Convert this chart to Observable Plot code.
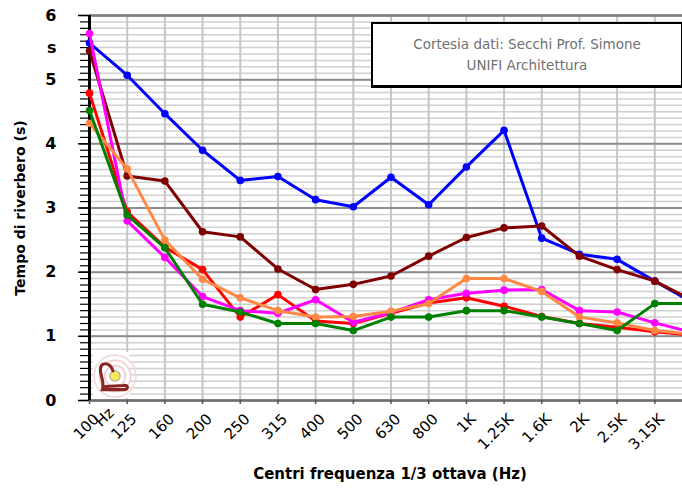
<!DOCTYPE html>
<html>
<head>
<meta charset="utf-8">
<script src="https://cdn.jsdelivr.net/npm/d3@7"></script>
<script src="https://cdn.jsdelivr.net/npm/@observablehq/plot@0.6"></script>
<style>
  body { margin: 0; background: #fff; overflow: hidden; }
  #wrap { position: relative; width: 682px; height: 490px; overflow: hidden; background: #fff; }
  #note { position: absolute; left: 371px; top: 22px; width: 308px; height: 51px; padding-top: 10px;
          background: #fff; border: 2px solid #000; border-bottom-width: 3px;
          font-family: "DejaVu Sans", sans-serif; font-size: 13.5px; line-height: 21px;
          color: #707070; text-align: center; }
  #logo { position: absolute; left: 92px; top: 352px; width: 46px; height: 46px; }
</style>
</head>
<body>
<div id="wrap">
  <div id="chart"></div>
  <div id="note">Cortesia dati: Secchi Prof. Simone<br>UNIFI Architettura</div>
  <svg id="logo" viewBox="0 0 44 44">
    <rect x="1" y="0" width="35" height="44" fill="#fff"/>
    <circle cx="22" cy="23" r="20" fill="none" stroke="#f2d8d8" stroke-width="1.5"/>
    <circle cx="22" cy="23" r="15" fill="none" stroke="#eed0d0" stroke-width="1.5"/>
    <circle cx="22" cy="23" r="10" fill="none" stroke="#ead0d0" stroke-width="1.5"/>
    <circle cx="22" cy="23" r="5" fill="#f2ea5a" stroke="#b0a0a0" stroke-width="1"/>
    <path d="M20 18 C 17 9, 7 9, 8 18 C 9 25, 12 30, 10 36 L 31 36 C 35 36, 35 31, 30 32 L 13 33"
          fill="none" stroke="#8b2525" stroke-width="3" stroke-linecap="round"/>
  </svg>
</div>
<script>
// Categories (1/3 octave band centres)
const freqs = ["100", "125", "160", "200", "250", "315", "400", "500", "630", "800",
               "1K", "1.25K", "1.6K", "2K", "2.5K", "3.15K", "4K"];
const xTickLabels = ["100", "125", "160", "200", "250", "315", "400", "500", "630", "800",
                     "1K", "1.25K", "1.6K", "2K", "2.5K", "3.15K"];
// Series values (reverberation time, s)
const blue    = [5.57, 5.07, 4.47, 3.90, 3.43, 3.49, 3.13, 3.02, 3.48, 3.05, 3.64, 4.21, 2.53, 2.28, 2.20, 1.86, 1.53];
const brown   = [5.45, 3.50, 3.42, 2.63, 2.55, 2.05, 1.73, 1.81, 1.94, 2.25, 2.54, 2.69, 2.72, 2.25, 2.04, 1.86, 1.56];
const red     = [4.79, 2.94, 2.39, 2.04, 1.30, 1.65, 1.24, 1.20, 1.36, 1.52, 1.60, 1.47, 1.31, 1.20, 1.14, 1.07, 1.02];
const magenta = [5.72, 2.80, 2.23, 1.62, 1.40, 1.36, 1.57, 1.22, 1.37, 1.57, 1.67, 1.72, 1.73, 1.40, 1.38, 1.21, 1.06];
const orange  = [4.32, 3.61, 2.50, 1.89, 1.60, 1.40, 1.30, 1.31, 1.39, 1.51, 1.90, 1.90, 1.70, 1.30, 1.21, 1.09, 1.03];
const green   = [4.52, 2.89, 2.38, 1.50, 1.38, 1.20, 1.20, 1.09, 1.30, 1.30, 1.40, 1.40, 1.30, 1.20, 1.09, 1.51, 1.51];
const seriesNames  = ["blue", "brown", "red", "magenta", "orange", "green"];
const seriesColors = ["#0000ff", "#800000", "#ff0000", "#ff00ff", "#ff8844", "#008000"];
const seriesValues = [blue, brown, red, magenta, orange, green];
// Axis ticks
const yMajor = [0, 1, 2, 3, 4, 5, 6];
const yMinor = d3.range(0, 61).map(i => i / 10);
const yLabelVals = [0, 1, 2, 3, 4, 5, 5.5, 6];
const yLabels = ["0", "1", "2", "3", "4", "5", "s", "6"];
const yTitle = "Tempo di riverbero (s)";
const xTitle = "Centri frequenza 1/3 ottava (Hz)";
const xUnit = "Hz";

const data = seriesNames.flatMap((s, si) =>
  seriesValues[si].map((v, i) => ({series: s, freq: freqs[i], value: v})));

const seriesMarks = seriesNames.flatMap((s, si) => {
  const rows = data.filter(d => d.series === s);
  return [
    Plot.line(rows, {x: "freq", y: "value", stroke: seriesColors[si], strokeWidth: 3}),
    Plot.dot(rows, {x: "freq", y: "value", fill: seriesColors[si], r: 3.8})
  ];
});

const chart = Plot.plot({
  width: 682, height: 490,
  marginLeft: 89, marginRight: 0, marginTop: 15, marginBottom: 90,
  x: {type: "point", domain: freqs, range: [89, 692], padding: 0, align: 0.5, round: false},
  y: {domain: [0, 6], range: [400, 15]},
  style: {fontFamily: "DejaVu Sans, sans-serif", background: "white", overflow: "hidden"},
  marks: [
    Plot.ruleY(yMinor, {stroke: "#d0d0d0", strokeWidth: 1.5}),
    Plot.ruleX(freqs, {stroke: "#c6c6c6", strokeWidth: 2}),
    Plot.ruleY(yMajor, {stroke: "#8c8c8c", strokeWidth: 2}),
    Plot.ruleY([6], {stroke: "#808080", strokeWidth: 2.5}),
    Plot.ruleY([0], {stroke: "#6e6e6e", strokeWidth: 2.5}),
    Plot.axisY({ticks: yMinor, tickSize: 9, tickFormat: () => "", stroke: "#000", strokeWidth: 1.2, label: null}),
    Plot.axisY({ticks: yMajor, tickSize: 11, tickFormat: () => "", stroke: "#000", strokeWidth: 1.5, label: null}),
    Plot.axisX({ticks: xTickLabels, tickSize: 4, tickFormat: () => "", stroke: "#555", strokeWidth: 1.5, label: null}),
    Plot.ruleX([freqs[0]], {stroke: "#000", strokeWidth: 3}),
    ...seriesMarks,
    Plot.text(yLabelVals, {y: d => d, text: d => yLabels[yLabelVals.indexOf(d)], frameAnchor: "left",
      dx: -33, textAnchor: "end", fontSize: 16, fontWeight: "bold", fill: "#000"}),
    Plot.text(xTickLabels, {x: d => d, text: d => d, frameAnchor: "bottom", dx: 7, dy: 16,
      rotate: -45, textAnchor: "end", lineAnchor: "middle", fontSize: 15, fill: "#000"}),
    Plot.text([xUnit], {x: () => freqs[0], text: d => d, frameAnchor: "bottom", dx: 22, dy: 10,
      rotate: -45, textAnchor: "end", lineAnchor: "middle", fontSize: 15, fill: "#000"}),
    Plot.text([yTitle], {text: d => d, frameAnchor: "left", dx: -69, rotate: -90, textAnchor: "middle",
      fontSize: 14, fontWeight: "bold", fill: "#000"}),
    Plot.text([xTitle], {text: d => d, frameAnchor: "bottom", dx: 4, dy: 78, textAnchor: "middle",
      fontSize: 15, fontWeight: "bold", fill: "#000"})
  ]
});
document.getElementById("chart").appendChild(chart);
</script>
</body>
</html>
